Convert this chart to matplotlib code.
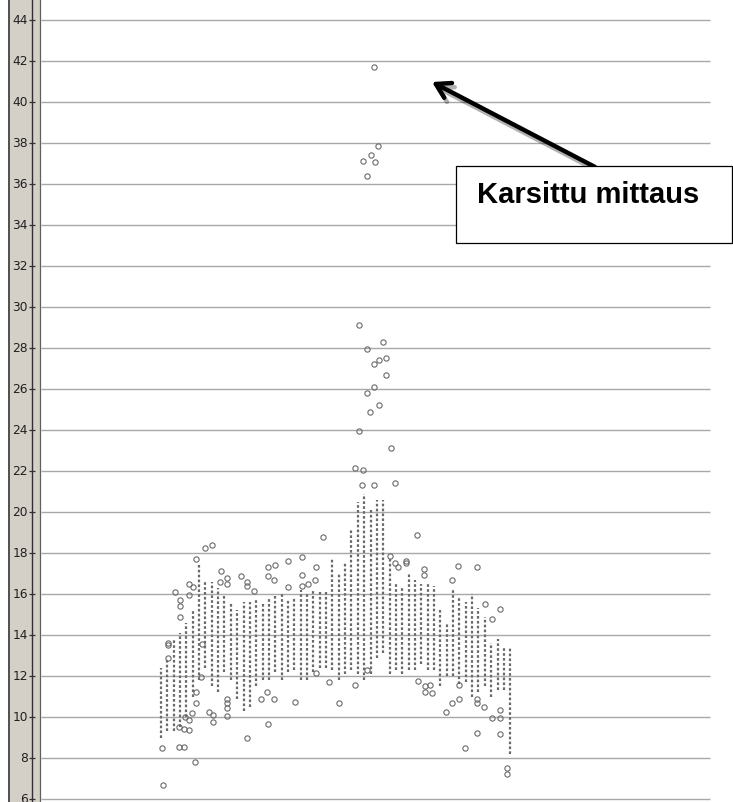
import matplotlib
matplotlib.use('Agg')
import matplotlib.pyplot as plt
import matplotlib.patheffects as pe
from matplotlib.patches import Rectangle
from matplotlib.lines import Line2D
import numpy as np

# dense measurement columns: lower / upper value of the dots in each column
col_lo = [9.0, 9.3, 9.3, 9.5, 10.0, 11.0, 11.8, 12.4, 11.5, 11.2,
          12.2, 11.8, 10.9, 10.3, 10.5, 11.5, 11.8, 11.8, 12.2, 11.8,
          12.2, 12.3, 11.8, 11.8, 12.2, 12.4, 12.4, 12.3, 11.8, 12.1,
          12.3, 12.1, 11.8, 12.1, 12.9, 13.1, 12.1, 12.3, 12.1, 12.3,
          12.3, 12.6, 12.3, 12.3, 11.5, 12.0, 12.0, 11.6, 11.7, 11.0,
          11.2, 11.5, 11.0, 11.3, 11.3, 8.2]
col_hi = [12.4, 12.8, 13.8, 14.1, 14.6, 15.2, 17.4, 16.7, 16.6, 16.3,
          16.0, 15.5, 15.2, 15.6, 15.6, 15.7, 15.6, 15.8, 16.0, 16.0,
          15.7, 15.8, 16.2, 16.0, 16.2, 16.2, 16.2, 17.7, 17.0, 17.5,
          19.1, 20.5, 20.9, 20.2, 20.6, 20.6, 17.7, 16.5, 16.3, 17.0,
          16.7, 16.5, 16.5, 16.4, 15.2, 14.6, 16.3, 15.8, 15.6, 16.0,
          15.3, 14.9, 13.6, 13.8, 13.4, 13.4]
col_x = np.arange(len(col_lo))

# outlier circles (column position, value)
out_x = [31.2, 35.0, 32.4, 34.3, 35.4, 33.5, 35.4, 33.5, 32.4, 34.3,
         32.9, 31.2, 36.2, 30.6, 31.8, 31.7, 33.5, 36.9, 25.5, 40.3,
         36.1, 33.5, 34.2, 33.1, 31.8, 33.7, 32.4,
         6.9, 8.0, 5.5, 9.4, 16.9, 18.0, 20.0, 22.2, 24.4, 16.9,
         17.8, 12.6, 13.5, 13.5, 14.6, 20.0, 22.2, 23.1, 22.2, 24.3,
         4.4, 5.0, 9.3, 10.4, 10.4, 2.2, 4.4, 3.0, 3.0, 3.0,
         1.1, 1.1, 6.5, 1.1, 6.3, 5.5, 5.5, 10.4, 10.4, 10.4,
         10.4, 4.9, 7.6, 8.2, 8.2, 3.8, 4.4, 2.8, 3.6, 4.4,
         0.2, 2.8, 3.6, 5.4, 0.3, 13.5, 16.9, 15.7, 17.8, 21.1,
         24.4, 26.5, 28.0, 30.6, 16.7,
         36.9, 37.3, 38.6, 38.6, 41.4, 41.4, 46.8, 49.8, 45.8, 51.0,
         53.4, 52.1, 32.4, 40.5, 41.6, 42.4, 41.6, 42.7, 46.9, 46.9,
         45.8, 44.9, 49.8, 49.8, 50.9, 52.1, 53.4, 53.4, 49.8, 53.4,
         47.9, 54.5, 54.5]
out_y = [29.1, 28.3, 27.95, 27.4, 27.5, 27.2, 26.7, 26.1, 25.8, 25.2,
         24.9, 23.95, 23.1, 22.15, 22.05, 21.3, 21.3, 21.4, 18.8, 18.9,
         17.85, 41.7, 37.85, 37.4, 37.1, 37.05, 36.4,
         18.24, 18.4, 17.7, 17.1, 17.3, 17.4, 17.6, 17.8, 17.3, 16.9,
         16.7, 16.9, 16.6, 16.4, 16.15, 16.35, 16.4, 16.5, 16.95, 16.7,
         16.5, 16.35, 16.6, 16.8, 16.5, 16.1, 15.95, 15.7, 15.4, 14.9,
         13.6, 13.5, 13.55, 12.9, 11.95, 11.2, 10.7, 10.9, 10.7, 10.45,
         10.05, 10.2, 10.25, 10.1, 9.75, 10.0, 9.85, 9.5, 9.4, 9.35,
         8.5, 8.55, 8.55, 7.8, 6.7, 8.98, 9.65, 10.9, 10.9, 10.75,
         12.15, 11.7, 10.7, 11.55, 11.2,
         17.5, 17.3, 17.6, 17.5, 17.2, 16.95, 17.35, 17.3, 16.7, 15.5,
         15.25, 14.8, 12.3, 11.75, 11.5, 11.55, 11.2, 11.15, 11.55, 10.9,
         10.7, 10.25, 10.9, 10.7, 10.5, 9.95, 9.95, 10.35, 9.2, 9.15,
         8.5, 7.5, 7.2]

yticks = list(range(6, 46, 2))
note_text = "Karsittu mittaus"

W, H = 733, 802
fig = plt.figure(figsize=(W / 100, H / 100), dpi=100)
fig.patch.set_facecolor('white')

# grey axis strip on the left
fig.patches.append(Rectangle((8 / W, 0), 32 / W, 1, transform=fig.transFigure,
                             facecolor='#d4d0c8', edgecolor='none', zorder=-5))
fig.lines.append(Line2D([8.5 / W, 8.5 / W], [0, 1], transform=fig.transFigure,
                        color='#505050', lw=1.4))
fig.lines.append(Line2D([40 / W, 40 / W], [0, 1], transform=fig.transFigure,
                        color='#606060', lw=0.9))

ax = fig.add_axes([32 / W, 0, (W - 32) / W, 1])
ax.set_facecolor('none')
ax.set_xlim(-20.31, 90.08)
ax.set_ylim(5.854, 44.976)

for s in ['top', 'right', 'bottom']:
    ax.spines[s].set_visible(False)
ax.spines['left'].set_color('#303030')
ax.spines['left'].set_linewidth(1.0)
ax.set_xticks([])
ax.set_yticks(yticks)
ax.tick_params(axis='y', direction='inout', length=5, width=0.9, color='#303030',
               labelsize=8.8, labelcolor='#202020', pad=0.5)
for lab in ax.get_yticklabels():
    lab.set_verticalalignment('center')

# horizontal grid lines
ax.hlines(yticks, (41 - 32) / (W - 32), (710 - 32) / (W - 32),
          transform=ax.get_yaxis_transform(), color='#a8a8a8', lw=1.0, zorder=1)

# dotted measurement columns
ax.vlines(col_x, col_lo, col_hi, colors='#6a6a6a', lw=1.6,
          linestyles=(0, (1.2, 1.0)), zorder=2)

# outliers
ax.plot(out_x, out_y, 'o', ms=3.8, mfc='none', mec='#6a6a6a', mew=0.8, zorder=3)

# annotation box
fig.patches.append(Rectangle((456 / W, 1 - 243 / H), 276 / W, 77 / H,
                             transform=fig.transFigure, facecolor='white',
                             edgecolor='black', lw=0.9, zorder=5))
fig.text(477 / W, 1 - 203 / H, note_text, fontsize=21, fontweight='bold',
         family=['Liberation Sans', 'DejaVu Sans'], va='baseline', ha='left',
         zorder=6)

ax.annotate('', xy=(432, H - 82), xytext=(595, H - 167),
            xycoords='figure pixels', textcoords='figure pixels',
            arrowprops=dict(arrowstyle='->,head_length=0.5,head_width=0.3',
                            lw=3.2, color='black',
                            mutation_scale=20, shrinkA=0, shrinkB=0,
                            path_effects=[pe.SimpleLineShadow(offset=(2, -3), alpha=0.3),
                                          pe.Normal()]),
            annotation_clip=False, zorder=7)

fig.savefig('out.png', dpi=100)
